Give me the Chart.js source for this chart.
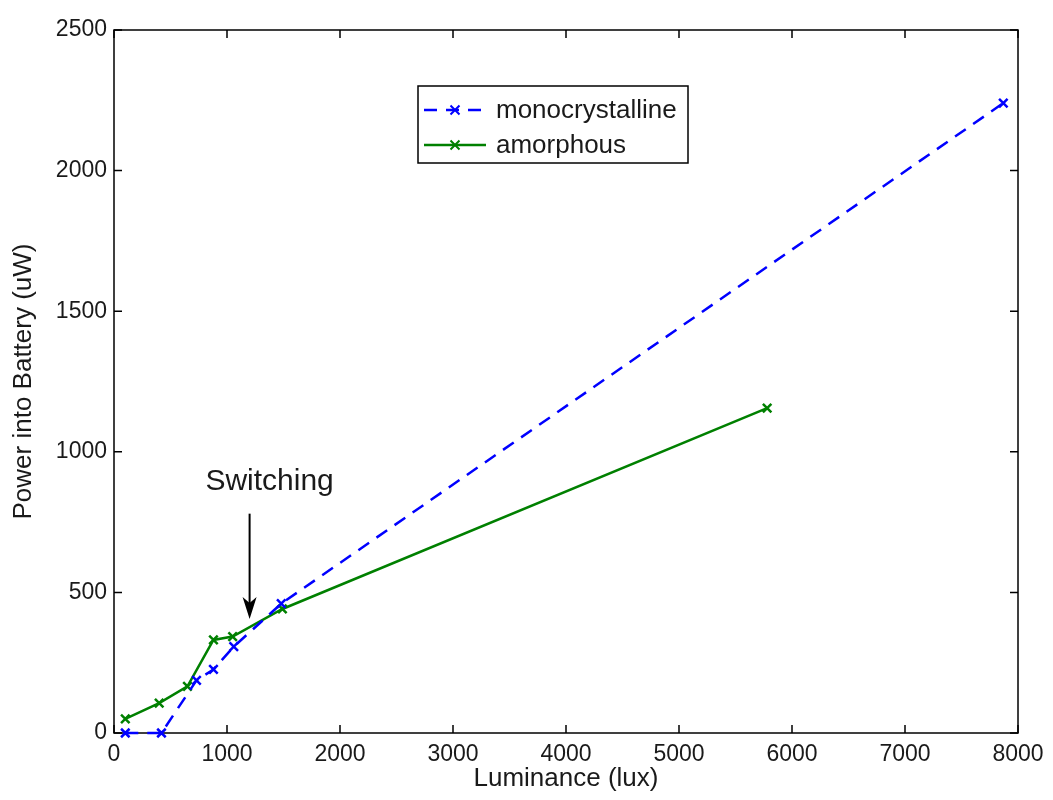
<!DOCTYPE html>
<html>
<head>
<meta charset="utf-8">
<title>Power into Battery vs Luminance</title>
<script src="https://cdn.jsdelivr.net/npm/chart.js@4/dist/chart.umd.min.js"></script>
<style>
  html, body { margin: 0; padding: 0; background: #fff; }
  #wrap { width: 1053px; height: 800px; }
</style>
</head>
<body>
<div id="wrap"><canvas id="powerChart" width="1053" height="800"></canvas></div>
<script>
// luminance (lux) against power delivered into the battery (uW)
const monoLux   = [100, 420, 730, 880, 1060, 1480, 7870];
const monoPower = [0, 0, 187, 226, 307, 460, 2240];
const amorLux   = [100, 400, 650, 880, 1050, 1490, 5780];
const amorPower = [50, 106, 166, 331, 343, 441, 1155];

const xTicks = [0, 1000, 2000, 3000, 4000, 5000, 6000, 7000, 8000];
const yTicks = [0, 500, 1000, 1500, 2000, 2500];

// where the switching arrow points
const switchLux = 1200;
const switchArrowTop = 780;
const switchArrowTip = 405;

const FONT = "'Liberation Sans', Arial, Helvetica, sans-serif";
const BLUE = '#0000ff';
const GREEN = '#008000';
const TEXT = '#1a1a1a';

const toPoints = (xs, ys) => xs.map((v, i) => ({ x: v, y: ys[i] }));

// box + inward tick marks on all four sides
const frameTicks = {
  id: 'frameTicks',
  beforeDatasetsDraw(chart) {
    const { ctx, chartArea: a, scales: { x, y } } = chart;
    const len = 8;
    ctx.save();
    ctx.strokeStyle = '#000';
    ctx.lineWidth = 1.5;
    ctx.strokeRect(a.left, a.top, a.right - a.left, a.bottom - a.top);
    ctx.beginPath();
    xTicks.forEach(v => {
      const px = x.getPixelForValue(v);
      ctx.moveTo(px, a.bottom); ctx.lineTo(px, a.bottom - len);
      ctx.moveTo(px, a.top);    ctx.lineTo(px, a.top + len);
    });
    yTicks.forEach(v => {
      const py = y.getPixelForValue(v);
      ctx.moveTo(a.left, py);  ctx.lineTo(a.left + len, py);
      ctx.moveTo(a.right, py); ctx.lineTo(a.right - len, py);
    });
    ctx.stroke();
    ctx.restore();
  }
};

// "Switching" label with a down arrow
const switchNote = {
  id: 'switchNote',
  afterDatasetsDraw(chart) {
    const { ctx, scales: { x, y } } = chart;
    const px = x.getPixelForValue(switchLux);
    const top = y.getPixelForValue(switchArrowTop);
    const tip = y.getPixelForValue(switchArrowTip);
    ctx.save();
    ctx.strokeStyle = '#000';
    ctx.fillStyle = '#000';
    ctx.lineWidth = 2;
    ctx.beginPath();
    ctx.moveTo(px, top);
    ctx.lineTo(px, tip - 10);
    ctx.stroke();
    ctx.beginPath();
    ctx.moveTo(px, tip);
    ctx.lineTo(px - 7, tip - 22);
    ctx.lineTo(px, tip - 16);
    ctx.lineTo(px + 7, tip - 22);
    ctx.closePath();
    ctx.fill();
    ctx.fillStyle = TEXT;
    ctx.font = '30px ' + FONT;
    ctx.textAlign = 'center';
    ctx.textBaseline = 'alphabetic';
    ctx.fillText('Switching', px + 20, top - 24);
    ctx.restore();
  }
};

function drawCross(ctx, cx, cy, r) {
  ctx.beginPath();
  ctx.moveTo(cx - r, cy - r); ctx.lineTo(cx + r, cy + r);
  ctx.moveTo(cx + r, cy - r); ctx.lineTo(cx - r, cy + r);
  ctx.stroke();
}

// boxed legend inside the plot, upper middle
const boxLegend = {
  id: 'boxLegend',
  afterDraw(chart) {
    const { ctx, chartArea: a } = chart;
    const left = a.left + 304, top = a.top + 56, w = 270, h = 77;
    ctx.save();
    ctx.fillStyle = '#fff';
    ctx.fillRect(left, top, w, h);
    ctx.strokeStyle = '#000';
    ctx.lineWidth = 1.5;
    ctx.strokeRect(left, top, w, h);
    ctx.font = '26px ' + FONT;
    ctx.textBaseline = 'middle';
    chart.data.datasets.forEach((ds, i) => {
      const cy = top + 24 + i * 35;
      ctx.strokeStyle = ds.borderColor;
      ctx.lineWidth = 2.5;
      ctx.setLineDash(ds.borderDash || []);
      ctx.beginPath();
      ctx.moveTo(left + 6, cy);
      ctx.lineTo(left + 68, cy);
      ctx.stroke();
      ctx.setLineDash([]);
      ctx.lineWidth = 2;
      drawCross(ctx, left + 37, cy, 4.5);
      ctx.fillStyle = TEXT;
      ctx.fillText(ds.label, left + 78, cy + 1);
    });
    ctx.restore();
  }
};

new Chart(document.getElementById('powerChart'), {
  type: 'scatter',
  data: {
    datasets: [
      {
        label: 'monocrystalline',
        data: toPoints(monoLux, monoPower),
        showLine: true,
        borderColor: BLUE,
        backgroundColor: BLUE,
        borderWidth: 2.5,
        borderDash: [13, 9],
        pointStyle: 'crossRot',
        pointRadius: 6,
        pointBorderWidth: 2.5,
        pointBorderColor: BLUE,
        clip: false
      },
      {
        label: 'amorphous',
        data: toPoints(amorLux, amorPower),
        showLine: true,
        borderColor: GREEN,
        backgroundColor: GREEN,
        borderWidth: 2.5,
        pointStyle: 'crossRot',
        pointRadius: 6,
        pointBorderWidth: 2.5,
        pointBorderColor: GREEN,
        clip: false
      }
    ]
  },
  options: {
    responsive: false,
    animation: false,
    layout: { padding: { top: 30, right: 35, left: 0, bottom: 0 } },
    plugins: {
      legend: { display: false },
      tooltip: { enabled: false }
    },
    scales: {
      x: {
        type: 'linear',
        min: 0,
        max: 8000,
        afterFit: s => { s.height = 67; },
        afterBuildTicks: s => { s.ticks = xTicks.map(v => ({ value: v })); },
        grid: { display: false, drawTicks: false },
        border: { display: false },
        ticks: {
          padding: 8,
          maxRotation: 0,
          color: TEXT,
          font: { family: FONT, size: 23 },
          callback: v => String(v)
        },
        title: {
          display: true,
          text: 'Luminance (lux)',
          color: TEXT,
          font: { family: FONT, size: 26 },
          padding: { top: 0, bottom: 6 }
        }
      },
      y: {
        type: 'linear',
        min: 0,
        max: 2500,
        afterFit: s => { s.width = 114; },
        afterBuildTicks: s => { s.ticks = yTicks.map(v => ({ value: v })); },
        grid: { display: false, drawTicks: false },
        border: { display: false },
        ticks: {
          padding: 7,
          color: TEXT,
          font: { family: FONT, size: 23 },
          callback: v => String(v)
        },
        title: {
          display: true,
          text: 'Power into Battery (uW)',
          color: TEXT,
          font: { family: FONT, size: 26 },
          padding: { top: 8, bottom: 0 }
        }
      }
    }
  },
  plugins: [frameTicks, switchNote, boxLegend]
});
</script>
</body>
</html>
